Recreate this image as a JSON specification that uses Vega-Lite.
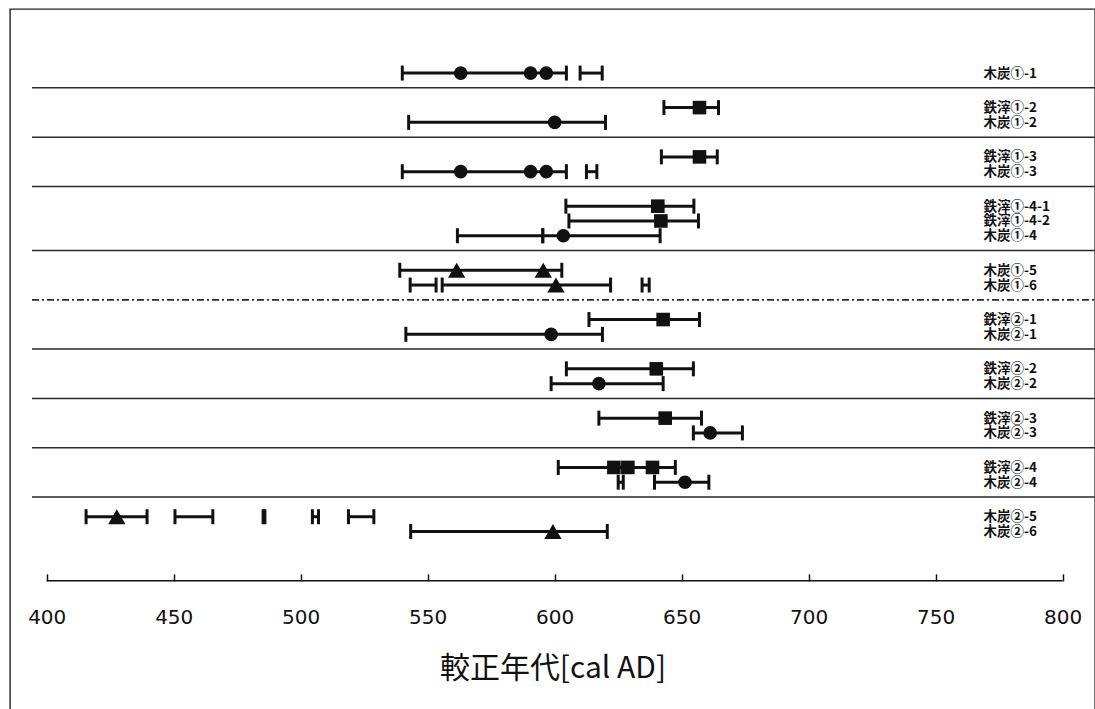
{
  "$schema": "https://vega.github.io/schema/vega-lite/v6.json",
  "width": 1085,
  "height": 704.9,
  "autosize": "none",
  "padding": {"left": 10, "top": 9, "right": 0, "bottom": 0},
  "background": "white",
  "config": {
    "view": {"stroke": "#222", "strokeWidth": 1.4},
    "font": "Noto Sans CJK JP"
  },
  "datasets": {
    "ranges": [
      {"sample": "木炭①-1", "lo": 540, "hi": 604.6},
      {"sample": "木炭①-1", "lo": 610, "hi": 618.7},
      {"sample": "鉄滓①-2", "lo": 643, "hi": 664.5},
      {"sample": "木炭①-2", "lo": 542.5, "hi": 620},
      {"sample": "鉄滓①-3", "lo": 642, "hi": 664},
      {"sample": "木炭①-3", "lo": 540, "hi": 604.6},
      {"sample": "木炭①-3", "lo": 612.5, "hi": 616.6},
      {"sample": "鉄滓①-4-1", "lo": 604.4, "hi": 654.8},
      {"sample": "鉄滓①-4-2", "lo": 605.6, "hi": 656.6},
      {"sample": "木炭①-4", "lo": 561.7, "hi": 595.3},
      {"sample": "木炭①-4", "lo": 595.3, "hi": 641.5},
      {"sample": "木炭①-5", "lo": 539, "hi": 602.8},
      {"sample": "木炭①-6", "lo": 543.1, "hi": 553.3},
      {"sample": "木炭①-6", "lo": 555.7, "hi": 622},
      {"sample": "木炭①-6", "lo": 634.4, "hi": 637.2},
      {"sample": "鉄滓②-1", "lo": 613.5, "hi": 657},
      {"sample": "木炭②-1", "lo": 541.4, "hi": 618.8},
      {"sample": "鉄滓②-2", "lo": 604.6, "hi": 654.6},
      {"sample": "木炭②-2", "lo": 598.6, "hi": 642.7},
      {"sample": "鉄滓②-3", "lo": 617.4, "hi": 657.8},
      {"sample": "木炭②-3", "lo": 654.6, "hi": 673.9},
      {"sample": "鉄滓②-4", "lo": 601.4, "hi": 647.5},
      {"sample": "木炭②-4", "lo": 625, "hi": 627},
      {"sample": "木炭②-4", "lo": 639.3, "hi": 660.7},
      {"sample": "木炭②-5", "lo": 415.5, "hi": 439.5},
      {"sample": "木炭②-5", "lo": 450.5, "hi": 465.4},
      {"sample": "木炭②-5", "lo": 485.2, "hi": 485.9},
      {"sample": "木炭②-5", "lo": 504.6, "hi": 507},
      {"sample": "木炭②-5", "lo": 518.8, "hi": 528.8},
      {"sample": "木炭②-6", "lo": 543.3, "hi": 620.7}
    ],
    "points": [
      {"sample": "木炭①-1", "age": 563, "kind": "charcoal"},
      {"sample": "木炭①-1", "age": 590.5, "kind": "charcoal"},
      {"sample": "木炭①-1", "age": 596.7, "kind": "charcoal"},
      {"sample": "鉄滓①-2", "age": 657, "kind": "slag"},
      {"sample": "木炭①-2", "age": 600, "kind": "charcoal"},
      {"sample": "鉄滓①-3", "age": 657, "kind": "slag"},
      {"sample": "木炭①-3", "age": 563, "kind": "charcoal"},
      {"sample": "木炭①-3", "age": 590.5, "kind": "charcoal"},
      {"sample": "木炭①-3", "age": 596.7, "kind": "charcoal"},
      {"sample": "鉄滓①-4-1", "age": 640.6, "kind": "slag"},
      {"sample": "鉄滓①-4-2", "age": 641.8, "kind": "slag"},
      {"sample": "木炭①-4", "age": 603.4, "kind": "charcoal"},
      {"sample": "木炭①-5", "age": 561.4, "kind": "charcoal2"},
      {"sample": "木炭①-5", "age": 595.5, "kind": "charcoal2"},
      {"sample": "木炭①-6", "age": 600.5, "kind": "charcoal2"},
      {"sample": "鉄滓②-1", "age": 642.7, "kind": "slag"},
      {"sample": "木炭②-1", "age": 598.6, "kind": "charcoal"},
      {"sample": "鉄滓②-2", "age": 640, "kind": "slag"},
      {"sample": "木炭②-2", "age": 617.4, "kind": "charcoal"},
      {"sample": "鉄滓②-3", "age": 643.5, "kind": "slag"},
      {"sample": "木炭②-3", "age": 661.2, "kind": "charcoal"},
      {"sample": "鉄滓②-4", "age": 623.3, "kind": "slag"},
      {"sample": "鉄滓②-4", "age": 628.8, "kind": "slag"},
      {"sample": "鉄滓②-4", "age": 638.5, "kind": "slag"},
      {"sample": "木炭②-4", "age": 651.3, "kind": "charcoal"},
      {"sample": "木炭②-5", "age": 427.6, "kind": "charcoal2"},
      {"sample": "木炭②-6", "age": 599.3, "kind": "charcoal2"}
    ],
    "seps": [
      {"sep": "_16"}, {"sep": "_26"}, {"sep": "_36"}, {"sep": "_49"},
      {"sep": "_69"}, {"sep": "_79"}, {"sep": "_89"}, {"sep": "_99"}
    ]
  },
  "layer": [
    {
      "data": {"name": "seps"},
      "mark": {"type": "rule", "color": "#2a2a2a", "strokeWidth": 1.5},
      "encoding": {
        "y": {
          "field": "sep",
          "type": "nominal",
          "scale": {
            "type": "point",
            "padding": 0,
            "domain": ["_0","_1","_2","_3","_4","_5","_6","_7","_8","_9","_10","_11","_12","木炭①-1","_14","_15","_16","_17","_18","_19","鉄滓①-2","_21","_22","木炭①-2","_24","_25","_26","_27","_28","_29","鉄滓①-3","_31","_32","木炭①-3","_34","_35","_36","_37","_38","_39","鉄滓①-4-1","_41","_42","鉄滓①-4-2","_44","_45","木炭①-4","_47","_48","_49","_50","_51","_52","木炭①-5","_54","_55","木炭①-6","_57","_58","_59","_60","_61","_62","鉄滓②-1","_64","_65","木炭②-1","_67","_68","_69","_70","_71","_72","鉄滓②-2","_74","_75","木炭②-2","_77","_78","_79","_80","_81","_82","鉄滓②-3","_84","_85","木炭②-3","_87","_88","_89","_90","_91","_92","鉄滓②-4","_94","_95","木炭②-4","_97","_98","_99","_100","_101","_102","木炭②-5","_104","_105","木炭②-6","_107","_108","_109","_110","_111","_112","_113","_114","_115","_116","_117","_118","_119","_120","_121","_122","_123","_124","_125","_126","_127","_128","_129","_130","_131","_132","_133","_134","_135","_136","_137","_138","_139","_140","_141","_142","_143"]
          },
          "axis": {
            "orient": "right",
            "values": ["木炭①-1","鉄滓①-2","木炭①-2","鉄滓①-3","木炭①-3","鉄滓①-4-1","鉄滓①-4-2","木炭①-4","木炭①-5","木炭①-6","鉄滓②-1","木炭②-1","鉄滓②-2","木炭②-2","鉄滓②-3","木炭②-3","鉄滓②-4","木炭②-4","木炭②-5","木炭②-6"],
            "domain": false,
            "ticks": false,
            "grid": false,
            "title": null,
            "labelPadding": -112,
            "labelAlign": "left",
            "labelBaseline": "middle",
            "labelFontSize": 13.5,
            "labelFontWeight": "bold",
            "labelColor": "#111",
            "labelOverlap": false,
            "labelFont": "Noto Sans CJK JP"
          }
        },
        "x": {
          "datum": 394.2,
          "type": "quantitative",
          "scale": {"domain": [385.55, 812.72], "nice": false, "zero": false},
          "axis": {
            "orient": "bottom",
            "offset": -133,
            "values": [400, 450, 500, 550, 600, 650, 700, 750, 800],
            "domain": false,
            "grid": false,
            "tickSize": -7,
            "tickColor": "#111",
            "tickWidth": 1.5,
            "labelFont": "DejaVu Sans",
            "labelFontSize": 20,
            "labelColor": "#111",
            "labelPadding": 34,
            "title": "較正年代[cal AD]",
            "titleFont": "Noto Sans CJK JP",
            "titleFontSize": 30,
            "titleFontWeight": "normal",
            "titleColor": "#111",
            "titlePadding": 26
          }
        },
        "x2": {"datum": 812.7}
      }
    },
    {
      "data": {"values": [{}]},
      "mark": {"type": "rule", "color": "#2a2a2a", "strokeWidth": 1.6, "strokeDash": [7, 3, 2, 3]},
      "encoding": {
        "y": {"datum": "_59", "type": "nominal"},
        "x": {"datum": 394.2, "type": "quantitative"},
        "x2": {"datum": 812.7}
      }
    },
    {
      "data": {"values": [{}]},
      "mark": {"type": "rule", "color": "#111", "strokeWidth": 1.5},
      "encoding": {
        "y": {"datum": "_116", "type": "nominal"},
        "x": {"datum": 400, "type": "quantitative"},
        "x2": {"datum": 800}
      }
    },
    {
      "data": {"name": "ranges"},
      "mark": {"type": "rule", "color": "#111", "strokeWidth": 3},
      "encoding": {
        "y": {"field": "sample", "type": "nominal"},
        "x": {"field": "lo", "type": "quantitative"},
        "x2": {"field": "hi"}
      }
    },
    {
      "data": {"name": "ranges"},
      "mark": {"type": "tick", "color": "#111", "orient": "vertical", "size": 15, "thickness": 3, "opacity": 1},
      "encoding": {
        "y": {"field": "sample", "type": "nominal"},
        "x": {"field": "lo", "type": "quantitative"}
      }
    },
    {
      "data": {"name": "ranges"},
      "mark": {"type": "tick", "color": "#111", "orient": "vertical", "size": 15, "thickness": 3, "opacity": 1},
      "encoding": {
        "y": {"field": "sample", "type": "nominal"},
        "x": {"field": "hi", "type": "quantitative"}
      }
    },
    {
      "data": {"name": "points"},
      "transform": [{"filter": "datum.kind !== 'charcoal2'"}],
      "mark": {"type": "point", "filled": true, "color": "#111", "opacity": 1, "size": 185},
      "encoding": {
        "y": {"field": "sample", "type": "nominal"},
        "x": {"field": "age", "type": "quantitative"},
        "shape": {
          "field": "kind",
          "type": "nominal",
          "scale": {"domain": ["charcoal", "slag", "charcoal2"], "range": ["circle", "square", "triangle-up"]},
          "legend": null
        }
      }
    },
    {
      "data": {"name": "points"},
      "transform": [{"filter": "datum.kind === 'charcoal2'"}],
      "mark": {"type": "point", "filled": true, "color": "#111", "opacity": 1, "size": 300},
      "encoding": {
        "y": {"field": "sample", "type": "nominal"},
        "x": {"field": "age", "type": "quantitative"},
        "shape": {"field": "kind", "type": "nominal", "legend": null}
      }
    }
  ]
}
